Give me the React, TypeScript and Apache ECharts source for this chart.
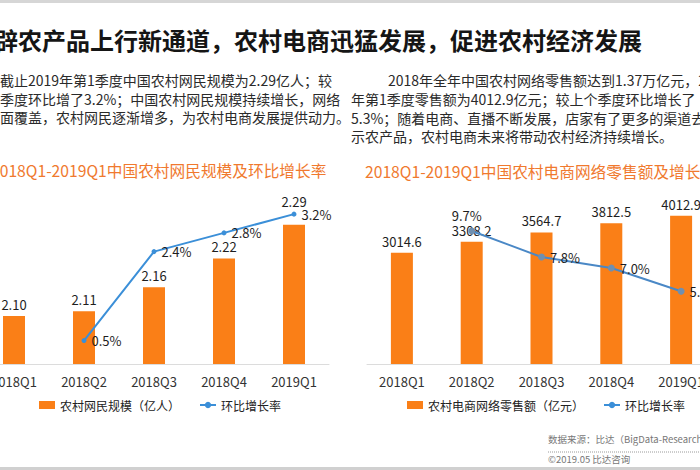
import React, { useEffect, useRef } from "react";
import * as echarts from "echarts";

// Quarterly data
const quarters = ["2018Q1", "2018Q2", "2018Q3", "2018Q4", "2019Q1"];
const netizens = [2.1, 2.11, 2.16, 2.22, 2.29]; // 亿人
const netizenGrowth: (number | null)[] = [null, 0.5, 2.4, 2.8, 3.2]; // %
const retailSales = [3014.6, 3308.2, 3564.7, 3812.5, 4012.9]; // 亿元
const salesGrowth: (number | null)[] = [null, 9.7, 7.8, 7.0, 5.3]; // %

// Texts
const headline = "辟农产品上行新通道，农村电商迅猛发展，促进农村经济发展";
const leftParagraph = [
  "截止2019年第1季度中国农村网民规模为2.29亿人；较",
  "季度环比增了3.2%；中国农村网民规模持续增长，网络",
  "面覆盖，农村网民逐渐增多，为农村电商发展提供动力。",
];
const rightParagraph = [
  "2018年全年中国农村网络零售额达到1.37万亿元，2",
  "年第1季度零售额为4012.9亿元；较上个季度环比增长了",
  "5.3%；随着电商、直播不断发展，店家有了更多的渠道去",
  "示农产品，农村电商未来将带动农村经济持续增长。",
];
const leftTitle = "2018Q1-2019Q1中国农村网民规模及环比增长率";
const rightTitle = "2018Q1-2019Q1中国农村电商网络零售额及增长率";
const netizenName = "农村网民规模（亿人）";
const salesName = "农村电商网络零售额（亿元）";
const growthName = "环比增长率";
const sourceNote = "数据来源：比达（BigData-Research）";
const copyright = "©2019.05 比达咨询";

const FONT = "'Noto Sans CJK SC', 'Noto Sans', sans-serif";
const ORANGE = "#FA7F17";
const BLUE = "#3B8FD8";
const TITLE_ORANGE = "#F0792E";

// The canvas is wider than the visible frame so the outer categories can sit
// partly outside it; OX shifts every drawn coordinate into frame space.
const OX = 40;
const CANVAS_W = 700 + 2 * OX;

function text(x: number, y: number, s: string, size: number, fill: string, weight = "normal") {
  return {
    type: "text",
    x: x + OX,
    y,
    silent: true,
    style: {
      text: s,
      fontSize: size,
      fontFamily: FONT,
      fontWeight: weight,
      fill,
      verticalAlign: "middle",
      align: "left",
    },
  };
}

export default function App() {
  const ref = useRef<HTMLDivElement>(null);

  useEffect(() => {
    if (!ref.current) return;
    const chart = echarts.init(ref.current, undefined, { renderer: "svg" });

    const graphics: any[] = [
      { type: "rect", shape: { x: 0, y: 0, width: CANVAS_W, height: 3 }, style: { fill: "#d6d6d6" }, silent: true },
      { type: "rect", shape: { x: 0, y: 467, width: CANVAS_W, height: 3 }, style: { fill: "#d0d0d0" }, silent: true },
      text(-6, 39, headline, 24, "#151515", "bold"),
      ...leftParagraph.map((s, i) => text(0, 80 + i * 18.7, s, 14, "#2a2a2a")),
      text(388, 80, rightParagraph[0], 14, "#2a2a2a"),
      ...rightParagraph.slice(1).map((s, i) => text(351, 99 + i * 18.5, s, 14, "#2a2a2a")),
      text(-9, 170, leftTitle, 15.7, TITLE_ORANGE),
      text(365, 171, rightTitle, 15.7, TITLE_ORANGE),
      text(548, 439, sourceNote, 9.5, "#777"),
      {
        type: "line",
        shape: { x1: 548 + OX, y1: 452, x2: 700 + OX, y2: 452 },
        style: { stroke: "#9a9a9a", lineWidth: 1, lineDash: [1, 1] },
        silent: true,
      },
      text(548, 459, copyright, 9.5, "#777"),
    ];

    const barLabel = {
      show: true,
      position: "top",
      distance: 5,
      fontSize: 13,
      fontFamily: FONT,
      color: "#1e1e1e",
    };
    const lineLabel = {
      show: true,
      position: "right",
      distance: 5,
      fontSize: 13,
      fontFamily: FONT,
      color: "#1e1e1e",
      formatter: (p: any) => `${Number(p.value).toFixed(1)}%`,
    };

    const xAxisBase = {
      type: "category",
      data: quarters,
      axisLine: { show: true, lineStyle: { color: "#dcdcdc", width: 1 } },
      axisTick: { show: false },
      axisLabel: { fontSize: 13, fontFamily: FONT, color: "#333", margin: 11 },
    };

    const last = netizens.length - 1;

    chart.setOption({
      animation: false,
      textStyle: { fontFamily: FONT },
      graphic: graphics,
      grid: [
        { left: -21 + OX, top: 172, width: 350, height: 192 },
        { left: 367 + OX, top: 172, width: 349, height: 192 },
      ],
      xAxis: [
        { ...xAxisBase, gridIndex: 0 },
        { ...xAxisBase, gridIndex: 1 },
      ],
      yAxis: [
        { type: "value", gridIndex: 0, min: 2.0, max: 2.4, show: false, splitLine: { show: false } },
        { type: "value", gridIndex: 0, min: 0, max: 4.1, show: false, splitLine: { show: false } },
        { type: "value", gridIndex: 1, min: 0, max: 5200, show: false, splitLine: { show: false } },
        { type: "value", gridIndex: 1, min: 0, max: 14, show: false, splitLine: { show: false } },
      ],
      legend: [
        {
          left: 34 + OX,
          top: 394,
          selectedMode: false,
          itemWidth: 16,
          itemHeight: 8,
          itemGap: 19,
          textStyle: { fontSize: 12, fontFamily: FONT, color: "#222" },
          data: [{ name: netizenName, icon: "rect" }, { name: growthName }],
        },
        {
          left: 402 + OX,
          top: 394,
          selectedMode: false,
          itemWidth: 16,
          itemHeight: 8,
          itemGap: 19,
          textStyle: { fontSize: 12, fontFamily: FONT, color: "#222" },
          data: [{ name: salesName, icon: "rect" }, { name: growthName }],
        },
      ],
      series: [
        {
          name: netizenName,
          type: "bar",
          xAxisIndex: 0,
          yAxisIndex: 0,
          barWidth: 22,
          itemStyle: { color: ORANGE },
          label: { ...barLabel, formatter: (p: any) => Number(p.value).toFixed(2) },
          data: netizens.map((v, i) => (i === last ? { value: v, label: { distance: 17 } } : v)),
          z: 2,
        },
        {
          name: growthName,
          type: "line",
          xAxisIndex: 0,
          yAxisIndex: 1,
          symbol: "circle",
          symbolSize: 5,
          itemStyle: { color: BLUE },
          lineStyle: { color: BLUE, width: 2 },
          label: lineLabel,
          data: netizenGrowth.map((v) => (v === null ? "-" : v)),
          z: 3,
        },
        {
          name: salesName,
          type: "bar",
          xAxisIndex: 1,
          yAxisIndex: 2,
          barWidth: 22,
          itemStyle: { color: ORANGE },
          label: { ...barLabel, formatter: (p: any) => Number(p.value).toFixed(1) },
          data: retailSales,
          z: 2,
        },
        {
          name: growthName,
          type: "line",
          xAxisIndex: 1,
          yAxisIndex: 3,
          symbol: "circle",
          symbolSize: 7,
          itemStyle: { color: "#6f8fb0" },
          lineStyle: { color: "#4A88C6", width: 2 },
          label: lineLabel,
          data: salesGrowth.map((v, i) =>
            v === null ? "-" : i === 1 ? { value: v, label: { position: "top", offset: [-5, 0] } } : v
          ),
          z: 3,
        },
      ],
    });

    return () => chart.dispose();
  }, []);

  return (
    <div
      style={{
        position: "fixed",
        left: 0,
        top: 0,
        width: 700,
        height: 470,
        overflow: "hidden",
        background: "#fff",
      }}
    >
      <div ref={ref} style={{ position: "absolute", left: -OX, top: 0, width: CANVAS_W, height: 470 }} />
    </div>
  );
}
